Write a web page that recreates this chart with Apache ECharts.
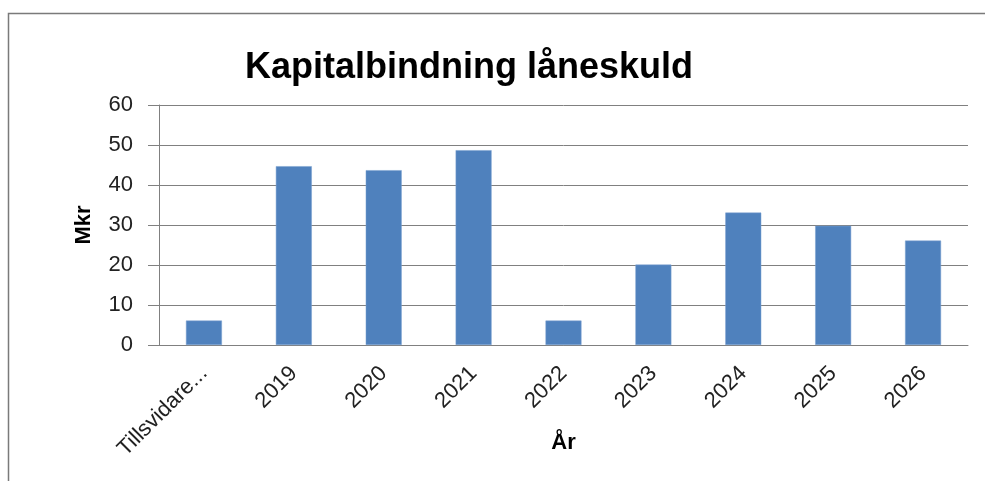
<!DOCTYPE html>
<html>
<head>
<meta charset="utf-8">
<script src="https://cdn.jsdelivr.net/npm/echarts@6/dist/echarts.min.js"></script>
<style>html,body{margin:0;padding:0;background:#fff}#c{width:985px;height:481px}</style>
</head>
<body>
<div id="c"></div>
<script>
const categories = ['Tillsvidare...', '2019', '2020', '2021', '2022', '2023', '2024', '2025', '2026'];
const values = [6.1, 44.7, 43.7, 48.7, 6.1, 20.1, 33.1, 29.8, 26.1];
const yTicks = { min: 0, max: 60, interval: 10 };
const titleText = 'Kapitalbindning låneskuld';
const xName = 'År';
const yName = 'Mkr';

const chart = echarts.init(document.getElementById('c'), null, { renderer: 'canvas' });
const axisGray = '#808080';
chart.setOption({
  animation: false,
  backgroundColor: '#fff',
  title: {
    text: titleText,
    left: 464, textAlign: 'center', top: 45,
    textStyle: { fontFamily: 'Liberation Sans', fontWeight: 'bold', fontSize: 36, color: '#000' }
  },
  graphic: [{
    type: 'polyline',
    shape: { points: [[8.5, 481], [8.5, 13.5], [985, 13.5]] },
    style: { stroke: '#7a7a7a', lineWidth: 1.5, fill: null }
  }],
  grid: { left: 159, right: 17, top: 105, bottom: 136, containLabel: false, outerBoundsMode: 'none' },
  xAxis: {
    type: 'category',
    data: categories,
    name: xName,
    nameLocation: 'middle',
    nameGap: 87,
    nameMoveOverlap: false,
    nameTextStyle: { fontFamily: 'Liberation Sans', fontWeight: 'bold', fontSize: 22, color: '#000' },
    axisLine: { lineStyle: { color: axisGray, width: 1 } },
    axisTick: { length: 9, lineStyle: { color: axisGray } },
    axisLabel: { rotate: 45, margin: 25, interval: 0, fontFamily: 'Liberation Sans', fontSize: 22, color: '#222' }
  },
  yAxis: {
    type: 'value',
    min: yTicks.min, max: yTicks.max, interval: yTicks.interval,
    name: yName,
    nameLocation: 'middle',
    nameRotate: 90,
    nameGap: 64,
    nameMoveOverlap: false,
    nameTextStyle: { fontFamily: 'Liberation Sans', fontWeight: 'bold', fontSize: 22, color: '#000' },
    axisLine: { show: true, lineStyle: { color: axisGray, width: 1 } },
    axisTick: { show: true, length: 11, lineStyle: { color: axisGray } },
    splitLine: { lineStyle: { color: axisGray, width: 1 } },
    axisLabel: { margin: 26, fontFamily: 'Liberation Sans', fontSize: 22, color: '#222' }
  },
  series: [{
    type: 'bar',
    data: values,
    barWidth: '40%',
    itemStyle: { color: '#4F81BD', borderColor: '#7aa0d0', borderWidth: 0.5 }
  }]
});
</script>
</body>
</html>
